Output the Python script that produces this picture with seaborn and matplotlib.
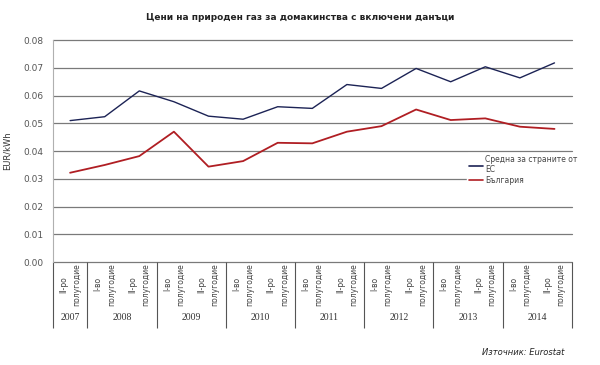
import numpy as np
import pandas as pd
import matplotlib
matplotlib.use("Agg")
import matplotlib.pyplot as plt
import seaborn as sns

# ---- data ----
years = ["2007", "2008", "2008", "2009", "2009", "2010", "2010", "2011", "2011",
         "2012", "2012", "2013", "2013", "2014", "2014"]
halves = ["II-ро\nполугодие", "I-во\nполугодие", "II-ро\nполугодие", "I-во\nполугодие",
          "II-ро\nполугодие", "I-во\nполугодие", "II-ро\nполугодие", "I-во\nполугодие",
          "II-ро\nполугодие", "I-во\nполугодие", "II-ро\nполугодие", "I-во\nполугодие",
          "II-ро\nполугодие", "I-во\nполугодие", "II-ро\nполугодие"]
eu_avg = [0.0510, 0.0524, 0.0617, 0.0578, 0.0526, 0.0515, 0.0560, 0.0554,
          0.0640, 0.0626, 0.0698, 0.0650, 0.0704, 0.0664, 0.0718]
bulgaria = [0.0322, 0.0350, 0.0382, 0.0470, 0.0344, 0.0364, 0.0430, 0.0428,
            0.0470, 0.0490, 0.0550, 0.0512, 0.0518, 0.0488, 0.0480]
series_names = ["Средна за страните от\nЕС", "България"]
y_ticks = [0.00, 0.01, 0.02, 0.03, 0.04, 0.05, 0.06, 0.07, 0.08]

pos = np.arange(len(years))
df = pd.DataFrame({
    "pos": np.concatenate([pos, pos]),
    "value": eu_avg + bulgaria,
    "series": [series_names[0]] * len(pos) + [series_names[1]] * len(pos),
})

sns.set_style("white")
plt.rcParams["font.family"] = ["DejaVu Sans"]

fig = plt.figure(figsize=(6, 3.65), dpi=100)
ax = fig.add_axes([0.088, 0.282, 0.865, 0.608])

sns.lineplot(data=df, x="pos", y="value", hue="series", ax=ax,
             palette=["#1c2355", "#b01e23"], linewidth=1.2, sort=False)
for line, lw in zip(ax.get_lines(), [1.0, 1.3]):
    line.set_linewidth(lw)

ax.set_xlim(-0.5, len(years) - 0.5)
ax.set_ylim(0, 0.08)
ax.set_yticks(y_ticks)
ax.set_yticklabels([f"{t:.2f}" for t in y_ticks], fontsize=6.5, color="#555555")
ax.tick_params(axis="y", length=0, pad=7)
for t in y_ticks:
    ax.axhline(t, color="#7a7a7a", lw=0.9, zorder=0, clip_on=False)

ax.set_xticks([])
ax.set_xlabel("")
ax.set_ylabel("EUR/kWh", fontsize=6, color="#333333", labelpad=8)
for s in ["top", "right", "bottom"]:
    ax.spines[s].set_visible(False)
ax.spines["left"].set_color("#b0b0b0")
ax.spines["left"].set_linewidth(0.8)

# two-level category axis
trans = ax.get_xaxis_transform()
for p, h in zip(pos, halves):
    ax.text(p, -0.1, h, rotation=90, ha="center", va="center", fontsize=5.5,
            color="#444444", transform=trans, linespacing=1.6)
uniq = list(dict.fromkeys(years))
for y in uniq:
    idx = [i for i, v in enumerate(years) if v == y]
    ax.text(np.mean(idx), -0.252, y, ha="center", va="center", fontsize=7,
            color="#333333", family="Liberation Serif", transform=trans)
bounds = [-0.5] + [i + 0.5 for i in range(len(years)) if i == len(years) - 1 or years[i] != years[i + 1]]
ax.vlines(bounds, -0.295, 0, transform=trans, color="#555555", lw=0.8, clip_on=False)

leg = ax.legend(loc="upper left", bbox_to_anchor=(0.79, 0.51), fontsize=5.5,
                frameon=True, facecolor="white", edgecolor="white", framealpha=1,
                handlelength=1.8, borderpad=0.3, labelspacing=0.2, handletextpad=0.3)
for t in leg.get_texts():
    t.set_color("#444444")

fig.text(0.5, 0.953, "Цени на природен газ за домакинства с включени данъци",
         ha="center", va="center", fontsize=6.5, fontweight="bold", color="#222222")
fig.text(0.94, 0.033, "Източник: Eurostat", ha="right", va="center",
         fontsize=6, style="italic", color="#222222")

fig.savefig("out.png", dpi=100)
